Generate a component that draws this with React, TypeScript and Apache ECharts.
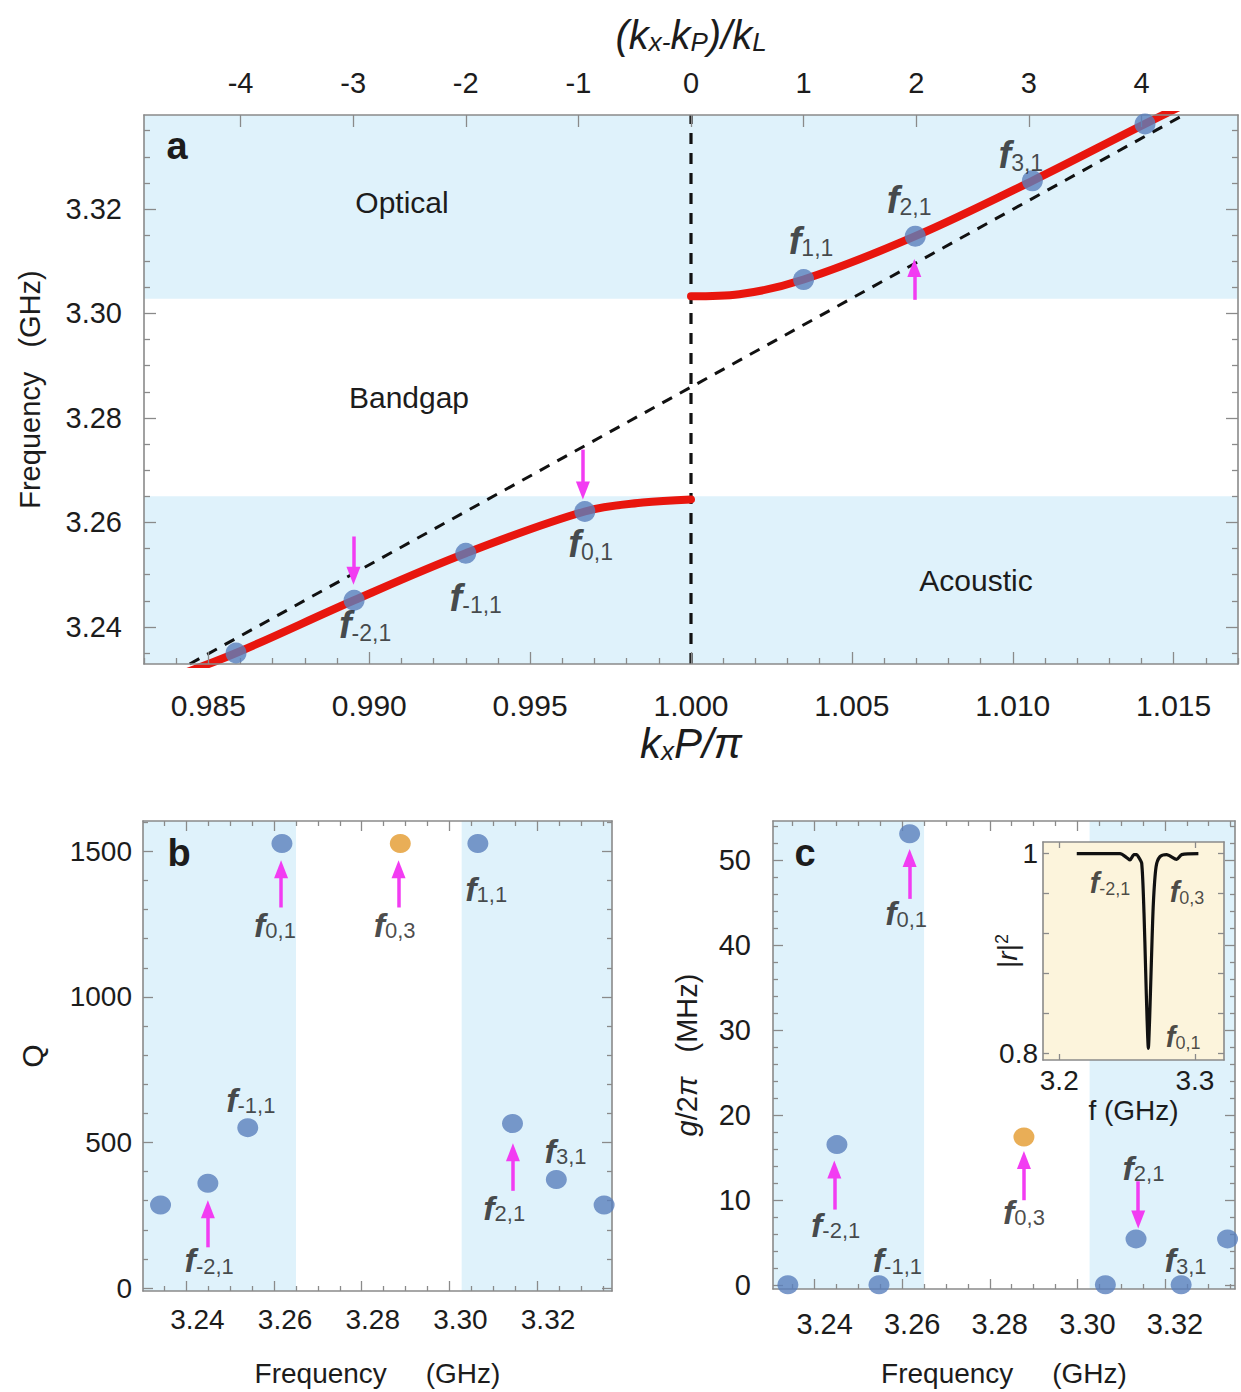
import React, { useEffect, useRef } from 'react';
import * as echarts from 'echarts';

const FONT = "'Liberation Sans', Arial, Helvetica, sans-serif";
const NARROW = "'Liberation Sans Narrow', 'Liberation Sans', Arial, sans-serif";
const TXT = '#1c1c1c';
const FRAME = '#8a8a8a';
const BAND = '#dff2fb';
const DOT = '#5a7fbd';
const ORANGE = '#e39a2d';
const RED = '#e8160e';
const MAGENTA = '#f23cf2';
const CREAM = '#fcf4dc';

// ---------- Panel a ----------
const A_K_RANGE: [number, number] = [0.983, 1.017];
const A_F_RANGE: [number, number] = [3.2329, 3.338];
const A_K_TICKS = [0.985, 0.99, 0.995, 1.0, 1.005, 1.01, 1.015];
const A_F_TICKS = [3.24, 3.26, 3.28, 3.3, 3.32];
const A_T_RANGE: [number, number] = [-4.857, 4.857];
const A_T_TICKS = [-4, -3, -2, -1, 0, 1, 2, 3, 4];
const ZONE_EDGE = 1.0;

const BAND_ACOUSTIC_TOP = 3.265;
const BAND_OPTICAL_BOTTOM = 3.3028;

const lowerK = [0.984, 0.98586, 0.98953, 0.993, 0.9967, 0.9985, 1.0];
const lowerF = [3.2306, 3.235, 3.2451, 3.2541, 3.2621, 3.2638, 3.2644];
const upperK = [1.0, 1.0015, 1.0035, 1.00697, 1.01061, 1.01411, 1.016];
const upperF = [3.3033, 3.3037, 3.3065, 3.3148, 3.3254, 3.3363, 3.342];
const lightK = [0.98442, 1.01531];
const lightF = [3.2329, 3.338];
const modeK = [0.98586, 0.98953, 0.993, 0.9967, 1.0035, 1.00697, 1.01061, 1.01411];
const modeF = [3.235, 3.2451, 3.2541, 3.2621, 3.3065, 3.3148, 3.3254, 3.3363];

// ---------- Panel b ----------
const B_X_RANGE: [number, number] = [3.2301, 3.3371];
const B_Y_RANGE: [number, number] = [-10, 1604];
const FREQ_TICKS = [3.24, 3.26, 3.28, 3.3, 3.32];
const Q_TICKS = [0, 500, 1000, 1500];
const bFreq = [3.2341, 3.2449, 3.254, 3.2618, 3.3065, 3.3144, 3.3244, 3.3353];
const bQ = [285, 360, 551, 1527, 1527, 565, 373, 285];
const bF03 = [3.2888];
const bQ03 = [1527];

// ---------- Panel c ----------
const C_X_RANGE: [number, number] = [3.2305, 3.336];
const C_Y_RANGE: [number, number] = [-0.5, 54.6];
const G_TICKS = [0, 10, 20, 30, 40, 50];
const cFreq = [3.2339, 3.2451, 3.2547, 3.2617, 3.3064, 3.3134, 3.3237, 3.3343];
const cG = [0, 16.5, 0, 53.1, 0, 5.4, 0, 5.4];
const cF03 = [3.2878];
const cG03 = [17.4];

// ---------- Inset ----------
const I_X_RANGE: [number, number] = [3.188, 3.3215];
const I_Y_RANGE: [number, number] = [0.7933, 1.0116];
const I_X_TICKS = [3.2, 3.3];
const I_Y_TICKS = [0.8, 0.84, 0.88, 0.92, 0.96, 1.0];
const I_Y_LABELS = [0.8, 1.0];
const insetF = [3.2129, 3.2448, 3.2497, 3.2522, 3.2551, 3.2571, 3.2583, 3.2608, 3.2625, 3.2637, 3.2647, 3.2657, 3.2667, 3.2679, 3.2694, 3.2714, 3.2743, 3.2792, 3.2866, 3.2903, 3.3026];
const insetR = [1.0, 1.0, 0.996, 0.9936, 0.999, 0.999, 0.997, 0.9903, 0.9402, 0.8834, 0.8367, 0.805, 0.8367, 0.8901, 0.9502, 0.9869, 0.997, 0.999, 0.9943, 0.999, 1.0];

// ---------- annotations ----------
const LABEL_A = [
  { sub: '-2,1', at: [0.98987, 3.24031] },
  { sub: '-1,1', at: [0.99331, 3.24561] },
  { sub: '0,1', at: [0.99688, 3.25587] },
  { sub: '1,1', at: [1.00373, 3.31396] },
  { sub: '2,1', at: [1.00678, 3.32175] },
  { sub: '3,1', at: [1.01025, 3.33025] },
];
const LABEL_B = [
  { sub: '0,1', at: [3.2602, 1248] },
  { sub: '0,3', at: [3.2875, 1248] },
  { sub: '1,1', at: [3.3084, 1371] },
  { sub: '-1,1', at: [3.2547, 646] },
  { sub: '-2,1', at: [3.2452, 95] },
  { sub: '2,1', at: [3.3125, 276] },
  { sub: '3,1', at: [3.3265, 471] },
];
const LABEL_C = [
  { sub: '0,1', at: [3.2609, 43.73] },
  { sub: '-2,1', at: [3.2448, 7.07] },
  { sub: '-1,1', at: [3.2589, 2.86] },
  { sub: '0,3', at: [3.2878, 8.62] },
  { sub: '2,1', at: [3.3151, 13.75] },
  { sub: '3,1', at: [3.3247, 2.86] },
];
const LABEL_I = [
  { sub: '-2,1', at: [3.2374, 0.9705] },
  { sub: '0,3', at: [3.2942, 0.9615] },
  { sub: '0,1', at: [3.2913, 0.8163] },
];
const ARROWS_A = [
  { x: 0.98951, from: 3.25731, to: 3.24808 },
  { x: 0.99664, from: 3.27394, to: 3.26437 },
  { x: 1.00694, from: 3.30262, to: 3.31041 },
];
const ARROWS_B = [
  { x: 3.2449, from: 140, to: 302 },
  { x: 3.2616, from: 1307, to: 1469 },
  { x: 3.2884, from: 1307, to: 1469 },
  { x: 3.3145, from: 334, to: 497 },
];
const ARROWS_C = [
  { x: 3.2445, from: 8.85, to: 14.63 },
  { x: 3.2617, from: 45.43, to: 51.29 },
  { x: 3.2878, from: 9.95, to: 15.74 },
  { x: 3.3139, from: 12.18, to: 6.62 },
];

// ---------- layout ----------
const GA = { left: 144, top: 115, width: 1094, height: 549 };
const GB = { left: 143, top: 821, width: 469, height: 470 };
const GC = { left: 773, top: 821, width: 462, height: 468 };
const GI = { left: 1043, top: 842, width: 181, height: 218 };
const HEAD = [14, 18];

const steps = (lo: number, hi: number, step: number) => {
  const out: number[] = [];
  const n0 = Math.ceil(lo / step - 1e-9);
  const n1 = Math.floor(hi / step + 1e-9);
  for (let n = n0; n <= n1; n++) out.push(+(n * step).toFixed(6));
  return out;
};
const minorOnly = (all: number[], majors: number[]) =>
  all.filter((v) => !majors.some((m) => Math.abs(m - v) < 1e-7));

type LabelOpt = { values: number[]; fmt: (v: number) => string; size: number; margin: number; family?: string; pad?: number[] };
type AxOpt = {
  grid: number; pos: string; range: [number, number]; ticks: number[]; len: number;
  line?: boolean; z?: number; labels?: LabelOpt; name?: string; nameGap?: number; nameStyle?: any; noMove?: boolean;
};
function mkAxis(o: AxOpt) {
  const ax: any = {
    type: 'value', gridIndex: o.grid, position: o.pos, min: o.range[0], max: o.range[1], z: o.z ?? 3,
    silent: true,
    axisLine: { show: !!o.line, onZero: false, lineStyle: { color: FRAME, width: 1.6 } },
    axisTick: { show: true, inside: true, length: o.len, customValues: o.ticks, lineStyle: { color: FRAME, width: 1.3 } },
    axisLabel: o.labels
      ? {
          show: true, customValues: o.labels.values, formatter: o.labels.fmt, fontSize: o.labels.size,
          fontFamily: o.labels.family ?? FONT, color: TXT, margin: o.labels.margin, padding: o.labels.pad ?? 0,
        }
      : { show: false },
    splitLine: { show: false },
    minorTick: { show: false },
    name: o.name ?? '', nameLocation: 'middle', nameGap: o.nameGap ?? 0, nameTextStyle: o.nameStyle ?? {},
  };
  if (o.noMove) ax.nameMoveOverlap = false;
  return ax;
}

const fRich = (fs: number, ss: number) => ({
  f: { fontSize: fs, fontFamily: FONT, fontStyle: 'italic', fontWeight: 'bold', color: TXT, lineHeight: fs },
  s: { fontSize: ss, fontFamily: FONT, color: TXT, lineHeight: fs, verticalAlign: 'bottom' },
});

function labelSeries(xi: number, yi: number, items: { sub: string; at: number[] }[], fs: number, ss: number, z = 4) {
  return {
    type: 'scatter', xAxisIndex: xi, yAxisIndex: yi, z, silent: true, symbolSize: 0,
    itemStyle: { color: 'transparent' },
    data: items.map((it) => ({ value: it.at, name: it.sub })),
    label: {
      show: true, position: 'inside',
      formatter: (p: any) => `{f|f}{s|${p.name}}`,
      rich: fRich(fs, ss),
    },
  };
}

function arrowMarks(arrows: { x: number; from: number; to: number }[], range: [number, number], px: number) {
  const shift = (HEAD[1] / 2) * (range[1] - range[0]) / px;
  return {
    silent: true, animation: false, symbol: ['none', 'triangle'],
    label: { show: false }, emphasis: { disabled: true },
    lineStyle: { color: MAGENTA, width: 3.5, type: 'solid' },
    itemStyle: { color: MAGENTA },
    data: arrows.map((a) => {
      const dir = a.to > a.from ? 1 : -1;
      return [
        { coord: [a.x, a.from], symbol: 'none' },
        { coord: [a.x, a.to - dir * shift], symbol: 'triangle', symbolSize: HEAD },
      ];
    }),
  };
}

const zip = (xs: number[], ys: number[]) => xs.map((x, i) => [x, ys[i]]);
const nb = (n: number) => '\u00a0'.repeat(n);

function buildOption(): any {
  const aKMinor = minorOnly(steps(A_K_RANGE[0], A_K_RANGE[1], 0.001), A_K_TICKS);
  const aFMinor = minorOnly(steps(A_F_RANGE[0], A_F_RANGE[1], 0.005), A_F_TICKS);
  const bXMinor = minorOnly(steps(B_X_RANGE[0], B_X_RANGE[1], 0.005), FREQ_TICKS);
  const cXMinor = minorOnly(steps(C_X_RANGE[0], C_X_RANGE[1], 0.005), FREQ_TICKS);
  const qMinor = minorOnly(steps(0, B_Y_RANGE[1], 100), Q_TICKS);
  const gMinor = minorOnly(steps(0, C_Y_RANGE[1], 2), G_TICKS);

  const freqName = `Frequency${nb(5)}(GHz)`;
  const freqNameStyle = { fontSize: 28, fontFamily: FONT, color: TXT };

  const xAxis = [
    mkAxis({
      grid: 0, pos: 'bottom', range: A_K_RANGE, ticks: A_K_TICKS, len: 12, line: true,
      labels: { values: A_K_TICKS, fmt: (v) => v.toFixed(3), size: 30, margin: 26 },
      name: '{i|k}{s|x}{i|P/π}', nameGap: 58,
      nameStyle: {
        rich: {
          i: { fontSize: 42, fontStyle: 'italic', fontFamily: FONT, color: TXT, lineHeight: 42 },
          s: { fontSize: 26, fontFamily: NARROW, fontStyle: 'italic', color: TXT, lineHeight: 42, verticalAlign: 'bottom' },
        },
      },
    }),
    mkAxis({ grid: 0, pos: 'bottom', range: A_K_RANGE, ticks: aKMinor, len: 6 }),
    mkAxis({
      grid: 0, pos: 'top', range: A_T_RANGE, ticks: A_T_TICKS, len: 12, line: true,
      labels: { values: A_T_TICKS, fmt: (v) => String(v), size: 29, margin: 18, family: NARROW },
      name: '{n|(k}{s|x-}{n|k}{s|P}{n|)/k}{s|L}', nameGap: 60,
      nameStyle: {
        rich: {
          n: { fontSize: 40, fontStyle: 'italic', fontFamily: NARROW, color: TXT, lineHeight: 40 },
          s: { fontSize: 26, fontStyle: 'italic', fontFamily: NARROW, color: TXT, lineHeight: 40, verticalAlign: 'bottom' },
        },
      },
    }),
    mkAxis({
      grid: 1, pos: 'bottom', range: B_X_RANGE, ticks: FREQ_TICKS, len: 10, line: true,
      labels: { values: FREQ_TICKS, fmt: (v) => v.toFixed(2), size: 28, margin: 14, pad: [0, 0, 0, 22] },
      name: freqName, nameGap: 68, nameStyle: freqNameStyle,
    }),
    mkAxis({ grid: 1, pos: 'bottom', range: B_X_RANGE, ticks: bXMinor, len: 5 }),
    mkAxis({ grid: 1, pos: 'top', range: B_X_RANGE, ticks: FREQ_TICKS, len: 10, line: true }),
    mkAxis({ grid: 1, pos: 'top', range: B_X_RANGE, ticks: bXMinor, len: 5 }),
    mkAxis({
      grid: 2, pos: 'bottom', range: C_X_RANGE, ticks: FREQ_TICKS, len: 10, line: true,
      labels: { values: FREQ_TICKS, fmt: (v) => v.toFixed(2), size: 29, margin: 20, pad: [0, 0, 0, 20] },
      name: freqName, nameGap: 70, nameStyle: freqNameStyle,
    }),
    mkAxis({ grid: 2, pos: 'bottom', range: C_X_RANGE, ticks: cXMinor, len: 5 }),
    mkAxis({ grid: 2, pos: 'top', range: C_X_RANGE, ticks: FREQ_TICKS, len: 10, line: true }),
    mkAxis({ grid: 2, pos: 'top', range: C_X_RANGE, ticks: cXMinor, len: 5 }),
    mkAxis({
      grid: 3, pos: 'bottom', range: I_X_RANGE, ticks: I_X_TICKS, len: 6, line: true, z: 8,
      labels: { values: I_X_TICKS, fmt: (v) => v.toFixed(1), size: 28, margin: 6 },
      name: 'f (GHz)', nameGap: 36, nameStyle: { fontSize: 28, fontFamily: FONT, color: TXT },
    }),
    mkAxis({ grid: 3, pos: 'top', range: I_X_RANGE, ticks: I_X_TICKS, len: 6, line: true, z: 8 }),
  ];

  const yAxis = [
    mkAxis({
      grid: 0, pos: 'left', range: A_F_RANGE, ticks: A_F_TICKS, len: 12, line: true,
      labels: { values: A_F_TICKS, fmt: (v) => v.toFixed(2), size: 29, margin: 22 },
      name: `Frequency${nb(3)}(GHz)`, nameGap: 100, nameStyle: { fontSize: 29, fontFamily: FONT, color: TXT },
    }),
    mkAxis({ grid: 0, pos: 'left', range: A_F_RANGE, ticks: aFMinor, len: 6 }),
    mkAxis({ grid: 0, pos: 'right', range: A_F_RANGE, ticks: A_F_TICKS, len: 12, line: true }),
    mkAxis({ grid: 0, pos: 'right', range: A_F_RANGE, ticks: aFMinor, len: 6 }),
    mkAxis({
      grid: 1, pos: 'left', range: B_Y_RANGE, ticks: Q_TICKS, len: 10, line: true,
      labels: { values: Q_TICKS, fmt: (v) => String(v), size: 28, margin: 11 },
      name: 'Q', nameGap: 96, nameStyle: { fontSize: 30, fontFamily: FONT, color: TXT },
    }),
    mkAxis({ grid: 1, pos: 'left', range: B_Y_RANGE, ticks: qMinor, len: 5 }),
    mkAxis({ grid: 1, pos: 'right', range: B_Y_RANGE, ticks: Q_TICKS, len: 10, line: true }),
    mkAxis({ grid: 1, pos: 'right', range: B_Y_RANGE, ticks: qMinor, len: 5 }),
    mkAxis({
      grid: 2, pos: 'left', range: C_Y_RANGE, ticks: G_TICKS, len: 10, line: true,
      labels: { values: G_TICKS, fmt: (v) => String(v), size: 29, margin: 22 },
      name: `{i|g}{n|/2}{i|π}{n|${nb(3)}(MHz)}`, nameGap: 72,
      nameStyle: {
        rich: {
          i: { fontSize: 29, fontStyle: 'italic', fontFamily: FONT, color: TXT },
          n: { fontSize: 29, fontFamily: FONT, color: TXT },
        },
      },
    }),
    mkAxis({ grid: 2, pos: 'left', range: C_Y_RANGE, ticks: gMinor, len: 5 }),
    mkAxis({ grid: 2, pos: 'right', range: C_Y_RANGE, ticks: G_TICKS, len: 10, line: true }),
    mkAxis({ grid: 2, pos: 'right', range: C_Y_RANGE, ticks: gMinor, len: 5 }),
    mkAxis({
      grid: 3, pos: 'left', range: I_Y_RANGE, ticks: I_Y_TICKS, len: 6, line: true, z: 8, noMove: true,
      labels: { values: I_Y_LABELS, fmt: (v) => (v > 0.9 ? '1' : '0.8'), size: 28, margin: 5 },
      name: '{n||}{i|r}{n||}{p|2}', nameGap: 22,
      nameStyle: {
        rich: {
          n: { fontSize: 28, fontFamily: FONT, color: TXT, lineHeight: 28 },
          i: { fontSize: 28, fontStyle: 'italic', fontFamily: FONT, color: TXT, lineHeight: 28 },
          p: { fontSize: 18, fontFamily: FONT, color: TXT, lineHeight: 28, verticalAlign: 'top' },
        },
      },
    }),
    mkAxis({ grid: 3, pos: 'right', range: I_Y_RANGE, ticks: I_Y_TICKS, len: 6, line: true, z: 8 }),
  ];

  const series: any[] = [
    {
      type: 'line', xAxisIndex: 0, yAxisIndex: 0, z: 2, silent: true, symbol: 'none',
      data: [[ZONE_EDGE, A_F_RANGE[0]], [ZONE_EDGE, A_F_RANGE[1]]],
      lineStyle: { color: '#111', width: 3.2, type: [11, 9] },
      markArea: {
        silent: true, itemStyle: { color: BAND },
        data: [
          [{ coord: [A_K_RANGE[0], BAND_OPTICAL_BOTTOM] }, { coord: [A_K_RANGE[1], A_F_RANGE[1]] }],
          [{ coord: [A_K_RANGE[0], A_F_RANGE[0]] }, { coord: [A_K_RANGE[1], BAND_ACOUSTIC_TOP] }],
        ],
      },
    },
    {
      type: 'line', xAxisIndex: 0, yAxisIndex: 0, z: 2, silent: true, symbol: 'none', smooth: 0.35,
      data: zip(lowerK, lowerF), lineStyle: { color: RED, width: 8, cap: 'round' },
    },
    {
      type: 'line', xAxisIndex: 0, yAxisIndex: 0, z: 2, silent: true, symbol: 'none', smooth: 0.35,
      data: zip(upperK, upperF), lineStyle: { color: RED, width: 8, cap: 'round' },
    },
    {
      type: 'line', xAxisIndex: 0, yAxisIndex: 0, z: 2, silent: true, symbol: 'none',
      data: zip(lightK, lightF), lineStyle: { color: '#111', width: 3, type: [11, 9] },
    },
    {
      type: 'scatter', xAxisIndex: 0, yAxisIndex: 0, z: 3, silent: true, symbolSize: 21,
      itemStyle: { color: DOT }, data: zip(modeK, modeF),
      markLine: arrowMarks(ARROWS_A, A_F_RANGE, GA.height),
    },
    labelSeries(0, 0, LABEL_A, 38, 23),
    {
      type: 'scatter', xAxisIndex: 3, yAxisIndex: 4, z: 3, silent: true, symbolSize: [21, 19],
      itemStyle: { color: DOT }, data: zip(bFreq, bQ),
      markArea: {
        silent: true, itemStyle: { color: BAND },
        data: [
          [{ coord: [B_X_RANGE[0], B_Y_RANGE[0]] }, { coord: [BAND_ACOUSTIC_TOP, B_Y_RANGE[1]] }],
          [{ coord: [BAND_OPTICAL_BOTTOM, B_Y_RANGE[0]] }, { coord: [B_X_RANGE[1], B_Y_RANGE[1]] }],
        ],
      },
      markLine: arrowMarks(ARROWS_B, B_Y_RANGE, GB.height),
    },
    {
      type: 'scatter', xAxisIndex: 3, yAxisIndex: 4, z: 3, silent: true, symbolSize: [21, 19],
      itemStyle: { color: ORANGE }, data: zip(bF03, bQ03),
    },
    labelSeries(3, 4, LABEL_B, 34, 22),
    {
      type: 'scatter', xAxisIndex: 7, yAxisIndex: 8, z: 3, silent: true, symbolSize: [21, 19],
      itemStyle: { color: DOT }, data: zip(cFreq, cG),
      markArea: {
        silent: true, itemStyle: { color: BAND },
        data: [
          [{ coord: [C_X_RANGE[0], C_Y_RANGE[0]] }, { coord: [BAND_ACOUSTIC_TOP, C_Y_RANGE[1]] }],
          [{ coord: [BAND_OPTICAL_BOTTOM, C_Y_RANGE[0]] }, { coord: [C_X_RANGE[1], C_Y_RANGE[1]] }],
        ],
      },
      markLine: arrowMarks(ARROWS_C, C_Y_RANGE, GC.height),
    },
    {
      type: 'scatter', xAxisIndex: 7, yAxisIndex: 8, z: 3, silent: true, symbolSize: [21, 19],
      itemStyle: { color: ORANGE }, data: zip(cF03, cG03),
    },
    labelSeries(7, 8, LABEL_C, 34, 22),
    {
      type: 'line', xAxisIndex: 11, yAxisIndex: 12, z: 7, silent: true, symbol: 'none', smooth: 0.25,
      data: zip(insetF, insetR), lineStyle: { color: '#111', width: 3.2 },
    },
    labelSeries(11, 12, LABEL_I, 29, 18, 8),
  ];

  const txt = (x: number, y: number, text: string, size: number, bold = false) => ({
    type: 'text', x, y, z: 10, silent: true,
    style: {
      text, fontSize: size, fontFamily: FONT, fontWeight: bold ? 'bold' : 'normal', fill: TXT,
      align: 'center', verticalAlign: 'middle', textAlign: 'center', textVerticalAlign: 'middle',
    },
  });

  return {
    animation: false,
    backgroundColor: '#ffffff',
    grid: [
      { ...GA, containLabel: false, outerBoundsMode: 'none' },
      { ...GB, containLabel: false, outerBoundsMode: 'none' },
      { ...GC, containLabel: false, outerBoundsMode: 'none' },
      { ...GI, containLabel: false, outerBoundsMode: 'none', show: true, backgroundColor: CREAM, borderWidth: 0, borderColor: 'transparent', z: 5 },
    ],
    xAxis,
    yAxis,
    series,
    graphic: [
      txt(177, 146, 'a', 38, true),
      txt(179, 853, 'b', 38, true),
      txt(805, 853, 'c', 38, true),
      txt(402, 202, 'Optical', 30),
      txt(409, 397, 'Bandgap', 30),
      txt(976, 580, 'Acoustic', 30),
    ],
  };
}

export default function App() {
  const ref = useRef<HTMLDivElement>(null);
  useEffect(() => {
    const chart = echarts.init(ref.current!, null, { renderer: 'svg', width: 1241, height: 1392 });
    chart.setOption(buildOption());
    return () => chart.dispose();
  }, []);
  return (
    <div
      ref={ref}
      style={{ position: 'absolute', left: 0, top: 0, width: 1241, height: 1392, background: '#fff' }}
    />
  );
}
